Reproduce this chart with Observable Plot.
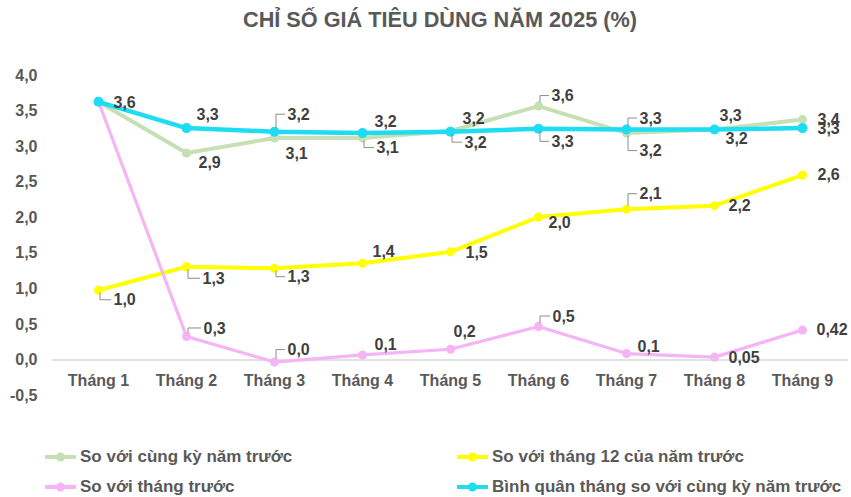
<!DOCTYPE html>
<html>
<head>
<meta charset="utf-8">
<script src="https://cdn.jsdelivr.net/npm/d3@7"></script>
<script src="https://cdn.jsdelivr.net/npm/@observablehq/plot@0.6"></script>
<style>
  html, body { margin: 0; padding: 0; background: #fff; }
  body { width: 851px; height: 497px; position: relative; overflow: hidden; font-family: "Liberation Sans", Arial, sans-serif; }
  #title { position: absolute; left: 0; width: 880px; top: 8px; text-align: center; font-size: 21.7px; font-weight: bold; color: #595959; line-height: 24px; }
  #chart { position: absolute; left: 0; top: 40px; }
  .leg { position: absolute; display: flex; align-items: center; font-size: 17px; font-weight: bold; color: #595959; white-space: nowrap; }
  .leg svg { margin-right: 4px; }
</style>
</head>
<body>
<div id="title">CHỈ SỐ GIÁ TIÊU DÙNG NĂM 2025 (%)</div>
<div id="chart"></div>
<div id="legend"></div>
<script>
// ---- data ----
const months = ["Tháng 1", "Tháng 2", "Tháng 3", "Tháng 4", "Tháng 5", "Tháng 6", "Tháng 7", "Tháng 8", "Tháng 9"];
const yTicks = [-0.5, 0, 0.5, 1, 1.5, 2, 2.5, 3, 3.5, 4];

const cungKy = [3.63, 2.91, 3.12, 3.12, 3.22, 3.57, 3.19, 3.24, 3.38];
const cungKyLabels = [null, "2,9", "3,1", "3,1", "3,2", "3,6", "3,2", "3,2", "3,4"];

const thang12 = [0.98, 1.31, 1.29, 1.36, 1.52, 2.01, 2.12, 2.17, 2.60];
const thang12Labels = ["1,0", "1,3", "1,3", "1,4", "1,5", "2,0", "2,1", "2,2", "2,6"];

const thangTruoc = [3.63, 0.33, -0.03, 0.07, 0.15, 0.47, 0.09, 0.04, 0.42];
const thangTruocLabels = [null, "0,3", "0,0", "0,1", "0,2", "0,5", "0,1", "0,05", "0,42"];

const binhQuan = [3.63, 3.26, 3.21, 3.19, 3.21, 3.25, 3.24, 3.24, 3.26];
const binhQuanLabels = ["3,6", "3,3", "3,2", "3,2", "3,2", "3,3", "3,3", "3,3", "3,3"];

const seriesNames = ["So với cùng kỳ năm trước", "So với tháng 12 của năm trước", "So với tháng trước", "Bình quân tháng so với cùng kỳ năm trước"];

// ---- style (label placement: [dx, dy, leader]) ----
const cungKyPos = [null, [12, 10], [11, 16], [14, 10, "down"], [12, -12], [13, -10, "up"], [13, 18, "down"], [11, 9], [15, 0]];
const thang12Pos = [[15, 10, "down"], [16, 12, "down"], [13, 9, "down"], [10, -11], [15, 1], [10, 6], [13, -15, "up"], [14, 0], [15, 0]];
const thangTruocPos = [null, [17, -8, "up"], [13, -12, "up"], [12, -10], [3, -17], [14, -10, "up"], [11, -7], [14, 1], [14, 0]];
const binhQuanPos = [[15, 1], [10, -13], [13, -17, "up"], [12, -11], [14, 11, "down"], [13, 13, "down"], [13, -11, "up"], [5, -14], [15, 1]];

const colors = ["#c6e0b4", "#ffff00", "#f5b4f5", "#1edcf2"];
const widths = [4, 4, 3.2, 4.5];

const series = [
  {name: seriesNames[0], values: cungKy, labels: cungKyLabels, pos: cungKyPos, color: colors[0], w: widths[0]},
  {name: seriesNames[1], values: thang12, labels: thang12Labels, pos: thang12Pos, color: colors[1], w: widths[1]},
  {name: seriesNames[2], values: thangTruoc, labels: thangTruocLabels, pos: thangTruocPos, color: colors[2], w: widths[2]},
  {name: seriesNames[3], values: binhQuan, labels: binhQuanLabels, pos: binhQuanPos, color: colors[3], w: widths[3]}
];

const fmt = d => d.toFixed(1).replace(".", ",");
const textColor = "#404040";
const axisColor = "#595959";

const marks = [
  Plot.axisY({ticks: yTicks, tickSize: 0, tickPadding: 15, tickFormat: fmt, fontSize: 16, fontWeight: "bold", fill: axisColor, label: null}),
  Plot.ruleY([0], {stroke: "#d9d9d9", strokeWidth: 1.5}),
  Plot.text(months, {x: d => d, y: () => 0, dy: 21, fontSize: 16, fontWeight: "bold", fill: axisColor})
];

// lines & dots
for (const s of series) {
  const rows = months.map((m, i) => ({month: m, value: s.values[i]}));
  marks.push(Plot.line(rows, {x: "month", y: "value", stroke: s.color, strokeWidth: s.w}));
  marks.push(Plot.dot(rows, {x: "month", y: "value", fill: s.color, r: s.w > 4 ? 5 : 4.5}));
}

// leader lines (derived from scales)
const leaders = [];
for (const s of series) {
  months.forEach((m, i) => {
    const p = s.pos[i];
    if (s.labels[i] && p && p[2]) leaders.push({month: m, value: s.values[i], dx: p[0], dy: p[1], dir: p[2]});
  });
}
marks.push((index, scales, values, dimensions) => {
  const g = d3.create("svg:g").attr("fill", "none").attr("stroke", "#8c8c8c").attr("stroke-width", 1);
  const bw = scales.x.bandwidth ? scales.x.bandwidth() : 0;
  for (const l of leaders) {
    const px = scales.x(l.month) + bw / 2;
    const py = scales.y(l.value);
    const lx = px + l.dx - 2;
    const ly = py + l.dy;
    const sx = px + 2;
    const sy = py + (l.dir === "down" ? 3 : -3);
    g.append("path").attr("d", `M${sx},${sy}V${ly}H${lx}`);
  }
  return g.node();
});

// data labels
for (const s of series) {
  months.forEach((m, i) => {
    const p = s.pos[i];
    if (!s.labels[i] || !p) return;
    marks.push(Plot.text([{month: m, value: s.values[i], label: s.labels[i]}], {
      x: "month", y: "value", text: "label", dx: p[0], dy: p[1], textAnchor: "start",
      fontSize: 16, fontWeight: "bold", fill: textColor
    }));
  });
}

const chart = Plot.plot({
  width: 851,
  height: 375,
  marginLeft: 52,
  marginRight: 3,
  marginTop: 35,
  marginBottom: 20,
  style: {fontFamily: "'Liberation Sans', Arial, sans-serif", background: "white", overflow: "visible"},
  x: {type: "band", domain: months, padding: 0, axis: null},
  y: {domain: [-0.5, 4], axis: null},
  marks
});
document.getElementById("chart").appendChild(chart);

// legend
const legPos = [[45, 457], [457, 457], [45, 487], [457, 487]];
const legend = document.getElementById("legend");
series.forEach((s, i) => {
  const div = document.createElement("div");
  div.className = "leg";
  div.style.left = legPos[i][0] + "px";
  div.style.top = (legPos[i][1] - 11) + "px";
  div.style.height = "22px";
  const sv = d3.create("svg").attr("width", 31).attr("height", 12);
  sv.append("line").attr("x1", 0).attr("x2", 31).attr("y1", 6).attr("y2", 6).attr("stroke", s.color).attr("stroke-width", 4);
  sv.append("circle").attr("cx", 15.5).attr("cy", 6).attr("r", 4.5).attr("fill", s.color);
  div.appendChild(sv.node());
  const span = document.createElement("span");
  span.textContent = s.name;
  div.appendChild(span);
  legend.appendChild(div);
});
</script>
</body>
</html>
